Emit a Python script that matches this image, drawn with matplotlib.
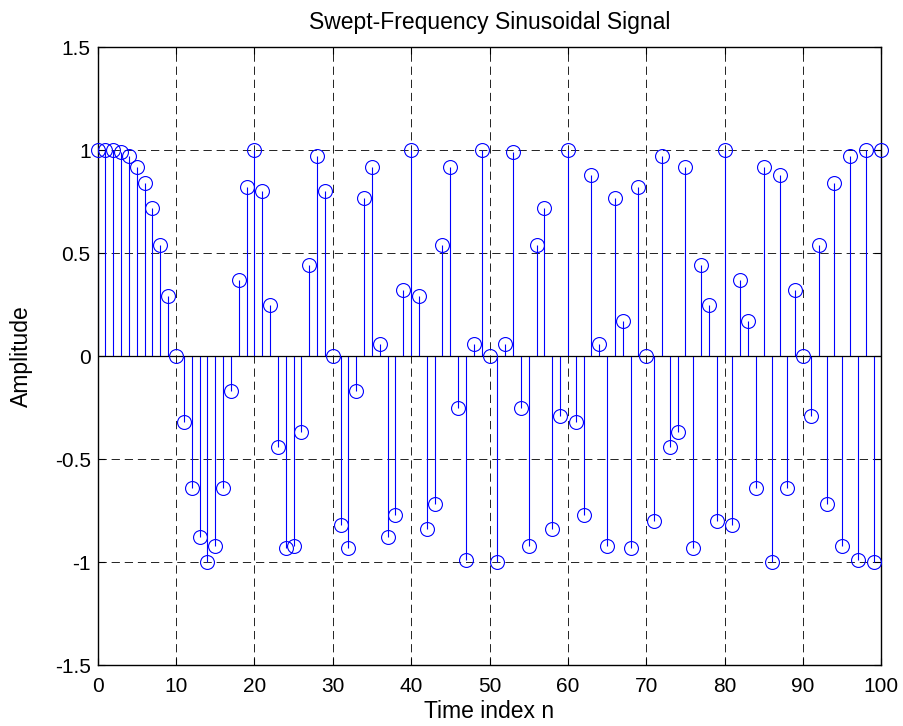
import numpy as np
import matplotlib.pyplot as plt

plt.rcParams['font.family'] = ['Liberation Sans', 'DejaVu Sans']

# sample index and amplitudes
n = list(range(0, 101))
x = [1.00, 1.00, 1.00, 0.99, 0.97, 0.92, 0.84, 0.72, 0.54, 0.29,
     0.00, -0.32, -0.64, -0.88, -1.00, -0.92, -0.64, -0.17, 0.37, 0.82,
     1.00, 0.80, 0.25, -0.44, -0.93, -0.92, -0.37, 0.44, 0.97, 0.80,
     0.00, -0.82, -0.93, -0.17, 0.77, 0.92, 0.06, -0.88, -0.77, 0.32,
     1.00, 0.29, -0.84, -0.72, 0.54, 0.92, -0.25, -0.99, 0.06, 1.00,
     0.00, -1.00, 0.06, 0.99, -0.25, -0.92, 0.54, 0.72, -0.84, -0.29,
     1.00, -0.32, -0.77, 0.88, 0.06, -0.92, 0.77, 0.17, -0.93, 0.82,
     0.00, -0.80, 0.97, -0.44, -0.37, 0.92, -0.93, 0.44, 0.25, -0.80,
     1.00, -0.82, 0.37, 0.17, -0.64, 0.92, -1.00, 0.88, -0.64, 0.32,
     0.00, -0.29, 0.54, -0.72, 0.84, -0.92, 0.97, -0.99, 1.00, -1.00,
     1.00]

xticks = [0, 10, 20, 30, 40, 50, 60, 70, 80, 90, 100]
yticks = [-1.5, -1, -0.5, 0, 0.5, 1, 1.5]
ytick_labels = ['-1.5', '-1', '-0.5', '0', '0.5', '1', '1.5']

fig = plt.figure(figsize=(9.04, 7.26), dpi=100)
ax = fig.add_axes([0.108, 0.084, 0.867, 0.851])

markerline, stemlines, baseline = ax.stem(n, x)
plt.setp(stemlines, color='#0000ff', linewidth=0.8)
plt.setp(markerline, marker='o', markersize=10, markerfacecolor='none',
         markeredgecolor='#0000ff', markeredgewidth=0.8, linestyle='none')
markerline.set_clip_on(False)
markerline.set_zorder(4)
plt.setp(baseline, color='black', linewidth=0.9)

ax.set_xlim(0, 100)
ax.set_ylim(-1.5, 1.5)
ax.set_xticks(xticks)
ax.set_yticks(yticks)
ax.set_yticklabels(ytick_labels)
ax.tick_params(direction='in', top=True, right=True, labelsize=15, length=5)
ax.tick_params(axis='x', pad=8.5)
ax.tick_params(axis='y', pad=5)
ax.grid(True, color='#222222', linestyle=(0, (8.5, 5)), linewidth=0.7)
ax.set_axisbelow(True)
for s in ax.spines.values():
    s.set_linewidth(1.0)

ax.set_title('Swept-Frequency Sinusoidal Signal', fontsize=16.5, pad=13)
ax.set_xlabel('Time index n', fontsize=16.5, labelpad=3)
ax.set_ylabel('Amplitude', fontsize=16.5, labelpad=16)

fig.savefig('out.png', dpi=100)
